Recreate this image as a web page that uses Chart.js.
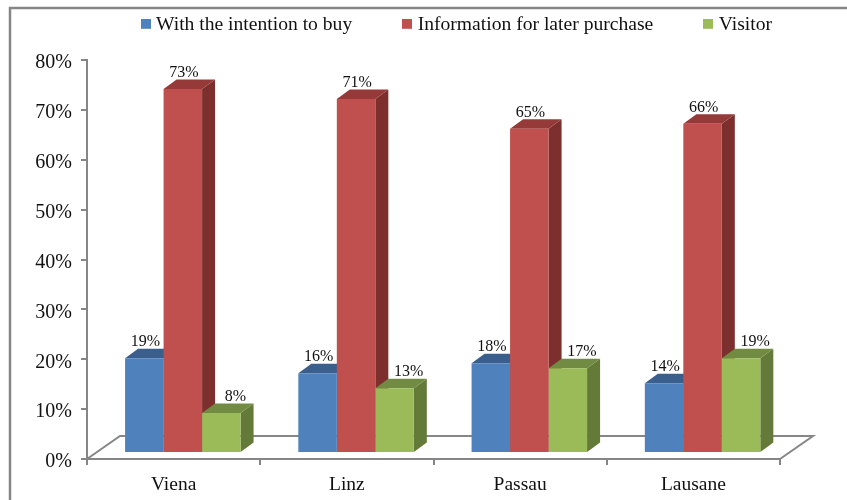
<!DOCTYPE html>
<html>
<head>
<meta charset="utf-8">
<style>html,body{margin:0;padding:0;background:#fff}canvas{display:block}</style>
<script src="https://cdn.jsdelivr.net/npm/chart.js@4"></script>
</head>
<body>
<canvas id="c" width="847" height="500"></canvas>
<script>
const categories = ["Viena", "Linz", "Passau", "Lausane"];
const intentionToBuy = [19, 16, 18, 14];
const laterPurchase = [73, 71, 65, 66];
const visitor = [8, 13, 17, 19];

const AXIS = "#868686";
const SERIF = "'Liberation Serif','Times New Roman',serif";
const SHIFT = {x: 9.2, y: -6};
const DEPTH = {x: 13, y: -9.5};
const FLOOR = {x: 33, y: -23};

function marker(color) {
  const m = document.createElement("canvas");
  m.width = 10; m.height = 12;
  const g = m.getContext("2d");
  g.fillStyle = color; g.fillRect(0, 0, 10, 10);
  return m;
}

const depthBars = {
  id: "depthBars",
  beforeDraw(chart) {
    const c = chart.ctx;
    c.save();
    c.fillStyle = "#fff"; c.fillRect(0, 0, chart.width, chart.height);
    c.strokeStyle = AXIS; c.lineWidth = 2.5;
    c.beginPath(); c.moveTo(10, 500); c.lineTo(10, 8); c.lineTo(847, 8); c.stroke();
    c.restore();
  },
  afterLayout(chart) {
    const l = chart.legend;
    l.top = 15 - l.options.labels.padding;
    l.left += 68.6; l.right += 68.6;
  },
  beforeDatasetsDraw(chart) {
    const c = chart.ctx, a = chart.chartArea;
    c.save();
    c.strokeStyle = AXIS; c.lineWidth = 2;
    c.beginPath();
    c.moveTo(a.left, a.bottom);
    c.lineTo(a.left + FLOOR.x, a.bottom + FLOOR.y);
    c.lineTo(a.right + FLOOR.x, a.bottom + FLOOR.y);
    c.lineTo(a.right, a.bottom);
    c.stroke();
    c.translate(SHIFT.x, SHIFT.y);
    chart.data.datasets.forEach((ds, i) => {
      chart.getDatasetMeta(i).data.forEach(el => {
        const p = el.getProps(["x", "y", "base", "width"], true);
        const l = p.x - p.width / 2, r = p.x + p.width / 2;
        c.fillStyle = ds.sideColor;
        c.beginPath();
        c.moveTo(r, p.y); c.lineTo(r + DEPTH.x, p.y + DEPTH.y);
        c.lineTo(r + DEPTH.x, p.base + DEPTH.y); c.lineTo(r, p.base);
        c.closePath(); c.fill();
        c.fillStyle = ds.topColor;
        c.beginPath();
        c.moveTo(l, p.y); c.lineTo(l + DEPTH.x, p.y + DEPTH.y);
        c.lineTo(r + DEPTH.x, p.y + DEPTH.y); c.lineTo(r, p.y);
        c.closePath(); c.fill();
      });
    });
    c.restore();
  },
  beforeDatasetDraw(chart) {
    chart.ctx.save();
    chart.ctx.translate(SHIFT.x, SHIFT.y);
  },
  afterDatasetDraw(chart) { chart.ctx.restore(); },
  afterDatasetsDraw(chart) {
    const c = chart.ctx;
    c.save();
    c.fillStyle = "#111";
    c.font = "16px " + SERIF;
    c.textAlign = "center";
    c.textBaseline = "middle";
    chart.data.datasets.forEach((ds, i) => {
      chart.getDatasetMeta(i).data.forEach((el, j) => {
        const p = el.getProps(["x", "y"], true);
        c.fillText(ds.data[j] + "%", p.x + SHIFT.x + ds.labelDx, p.y + SHIFT.y - 16.5);
      });
    });
    c.restore();
  }
};

new Chart(document.getElementById("c"), {
  type: "bar",
  data: {
    labels: categories,
    datasets: [
      {label: "With the intention to buy", data: intentionToBuy, backgroundColor: "#4F81BD", sideColor: "#3A5F8C", topColor: "#3A5F8C", labelDx: 1, clip: false},
      {label: "Information for later purchase", data: laterPurchase, backgroundColor: "#C0504D", sideColor: "#7C2F2D", topColor: "#953A38", labelDx: 1, clip: false},
      {label: "Visitor", data: visitor, backgroundColor: "#9BBB59", sideColor: "#647A38", topColor: "#728B42", labelDx: 14, clip: false}
    ]
  },
  plugins: [depthBars],
  options: {
    responsive: false,
    animation: false,
    layout: {padding: {left: 0, top: 0, right: 67, bottom: 0}},
    datasets: {bar: {categoryPercentage: 2 / 3, barPercentage: 1, borderWidth: 0}},
    plugins: {
      tooltip: {enabled: false},
      legend: {
        display: true,
        position: "top",
        maxHeight: 60,
        labels: {
          color: "#111",
          font: {family: SERIF, size: 19.6},
          usePointStyle: true,
          pointStyleWidth: 1,
          boxHeight: 10,
          padding: 54.7,
          generateLabels(chart) {
            return Chart.defaults.plugins.legend.labels.generateLabels(chart)
              .map(item => Object.assign(item, {pointStyle: marker(item.fillStyle), lineWidth: 0}));
          }
        }
      }
    },
    scales: {
      x: {
        afterFit(s) { s.height = 41; },
        border: {color: AXIS, width: 2},
        grid: {color: AXIS, lineWidth: 2, drawOnChartArea: false, drawTicks: true, tickLength: 6, offset: true},
        ticks: {color: "#111", font: {family: SERIF, size: 19.5}, padding: 8.5, maxRotation: 0}
      },
      y: {
        min: 0, max: 80,
        afterFit(s) { s.width = 87; },
        border: {color: AXIS, width: 2},
        grid: {color: AXIS, lineWidth: 2, drawOnChartArea: false, drawTicks: true, tickLength: 6},
        ticks: {color: "#111", font: {family: SERIF, size: 20}, padding: 9, stepSize: 10, labelOffset: 3, callback: v => v + "%"}
      }
    }
  }
});
</script>
</body>
</html>
